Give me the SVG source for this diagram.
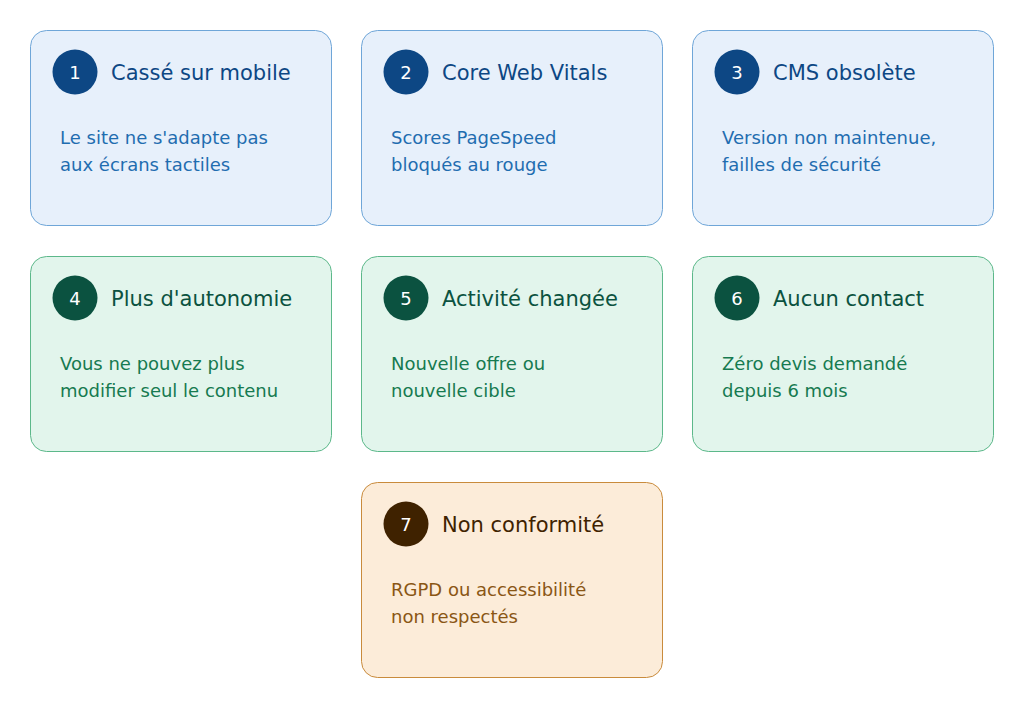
<svg xmlns="http://www.w3.org/2000/svg" width="1024" height="708" viewBox="0 0 1024 708">
<style>
text{font-family:"DejaVu Sans","Liberation Sans",sans-serif}
.b rect{fill:#e7f0fb;stroke:#6fa6d8}
.b circle{fill:#0d4784}
.b .t{fill:#0d4784}
.b .d{fill:#1f6db0}
.g rect{fill:#e2f5ec;stroke:#5cb88a}
.g circle{fill:#0b5240}
.g .t{fill:#0b5240}
.g .d{fill:#167a50}
.o rect{fill:#fcecd9;stroke:#c98b3c}
.o circle{fill:#3f2200}
.o .t{fill:#3f2200}
.o .d{fill:#8a5614}
rect{stroke-width:1}
.n{fill:#ffffff;font-size:18px;text-anchor:middle}
.t{font-size:21px}
.d{font-size:18px}
</style>
<rect width="1024" height="708" fill="#ffffff"/>
<g id="node1" class="b"><rect x="30.5" y="30.5" width="301" height="195" rx="16"/><circle cx="75" cy="72" r="22.5"/><text class="n" x="75" y="78.5">1</text><text class="t" x="111" y="79.5">Cassé sur mobile</text><text class="d" x="60" y="144">Le site ne s'adapte pas</text><text class="d" x="60" y="171">aux écrans tactiles</text></g>
<g id="node2" class="b"><rect x="361.5" y="30.5" width="301" height="195" rx="16"/><circle cx="406" cy="72" r="22.5"/><text class="n" x="406" y="78.5">2</text><text class="t" x="442" y="79.5">Core Web Vitals</text><text class="d" x="391" y="144">Scores PageSpeed</text><text class="d" x="391" y="171">bloqués au rouge</text></g>
<g id="node3" class="b"><rect x="692.5" y="30.5" width="301" height="195" rx="16"/><circle cx="737" cy="72" r="22.5"/><text class="n" x="737" y="78.5">3</text><text class="t" x="773" y="79.5">CMS obsolète</text><text class="d" x="722" y="144">Version non maintenue,</text><text class="d" x="722" y="171">failles de sécurité</text></g>
<g id="node4" class="g"><rect x="30.5" y="256.5" width="301" height="195" rx="16"/><circle cx="75" cy="298" r="22.5"/><text class="n" x="75" y="304.5">4</text><text class="t" x="111" y="305.5">Plus d'autonomie</text><text class="d" x="60" y="370">Vous ne pouvez plus</text><text class="d" x="60" y="397">modifier seul le contenu</text></g>
<g id="node5" class="g"><rect x="361.5" y="256.5" width="301" height="195" rx="16"/><circle cx="406" cy="298" r="22.5"/><text class="n" x="406" y="304.5">5</text><text class="t" x="442" y="305.5">Activité changée</text><text class="d" x="391" y="370">Nouvelle offre ou</text><text class="d" x="391" y="397">nouvelle cible</text></g>
<g id="node6" class="g"><rect x="692.5" y="256.5" width="301" height="195" rx="16"/><circle cx="737" cy="298" r="22.5"/><text class="n" x="737" y="304.5">6</text><text class="t" x="773" y="305.5">Aucun contact</text><text class="d" x="722" y="370">Zéro devis demandé</text><text class="d" x="722" y="397">depuis 6 mois</text></g>
<g id="node7" class="o"><rect x="361.5" y="482.5" width="301" height="195" rx="16"/><circle cx="406" cy="524" r="22.5"/><text class="n" x="406" y="530.5">7</text><text class="t" x="442" y="531.5">Non conformité</text><text class="d" x="391" y="596">RGPD ou accessibilité</text><text class="d" x="391" y="623">non respectés</text></g>
<g id="connectors"/>
</svg>
